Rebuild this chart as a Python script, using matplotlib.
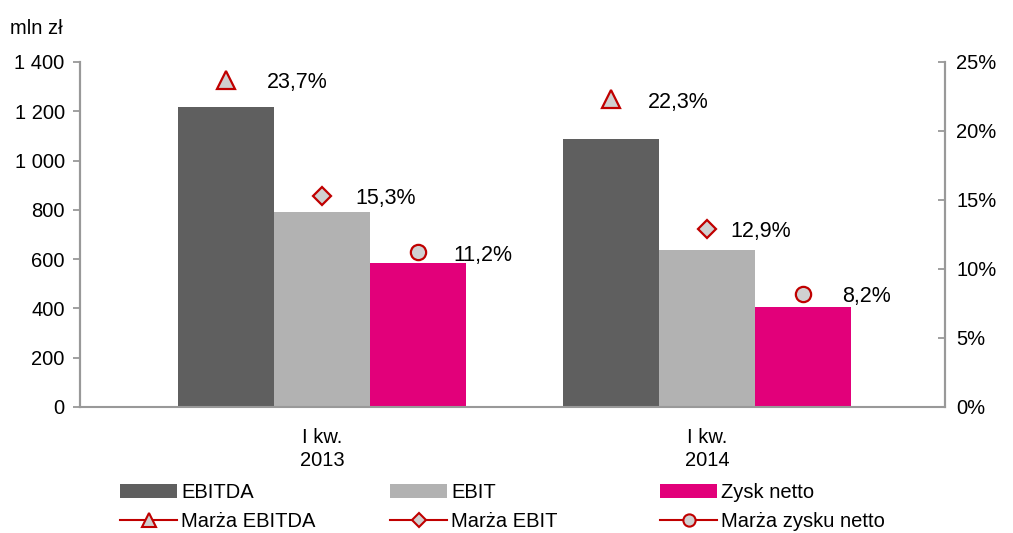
import matplotlib
matplotlib.use("Agg")
import matplotlib.pyplot as plt
from matplotlib.lines import Line2D
from matplotlib.patches import Patch
import numpy as np

plt.rcParams['font.family'] = ['Liberation Sans', 'DejaVu Sans']

categories = ["I kw.\n2013", "I kw.\n2014"]
ebitda = [1217, 1088]
ebit = [791, 637]
zysk = [584, 406]
m_ebitda = [23.7, 22.3]
m_ebit = [15.3, 12.9]
m_zysk = [11.2, 8.2]
left_ticks = [0, 200, 400, 600, 800, 1000, 1200, 1400]
right_ticks = [0, 5, 10, 15, 20, 25]

bar_names = ["EBITDA", "EBIT", "Zysk netto"]
margin_names = ["Marża EBITDA", "Marża EBIT", "Marża zysku netto"]
bar_colors = ["#5F5F5F", "#B2B2B2", "#E2007A"]
red = "#C00000"
mface = "#D0D0D0"
spine_c = "#999999"
fs = 14.5
fs_lab = 15.5

fig = plt.figure(figsize=(10.13, 5.33), dpi=100)
ax = fig.add_axes([0.079, 0.2364, 0.854, 0.6473])
ax2 = ax.twinx()

x = np.arange(len(categories))
w = 0.249
offs = [-w, 0, w]
for vals, off, c in zip([ebitda, ebit, zysk], offs, bar_colors):
    ax.bar(x + off, vals, width=w, color=c, zorder=2)

ax.set_xlim(-0.6286, 1.618)
ax.set_ylim(0, 1400)
ax.set_yticks(left_ticks)
ax.set_yticklabels([f"{v:,}".replace(",", " ") for v in left_ticks], fontsize=fs)
ax.set_xticks(x)
ax.set_xticklabels(categories, fontsize=fs, linespacing=1.3)
ax.tick_params(axis='x', length=0, pad=15)
ax.tick_params(axis='y', direction='out', length=5, color=spine_c, width=1.3, pad=6)

ax2.set_ylim(0, 25)
ax2.set_yticks(right_ticks)
ax2.set_yticklabels([f"{v}%" for v in right_ticks], fontsize=fs)
ax2.tick_params(axis='y', direction='in', length=5, color=spine_c, width=1.3, pad=8)

for a in (ax, ax2):
    a.spines['top'].set_visible(False)
    for s in ('left', 'right', 'bottom'):
        a.spines[s].set_color(spine_c)
        a.spines[s].set_linewidth(1.5)
ax2.spines['bottom'].set_visible(False)

markers = ['^', 'D', 'o']
msizes = [13, 9, 11]
label_dx = [[41, 37], [33, 23], [35, 39]]  # px offsets of value labels
for vals, off, mk, ms, dxs in zip([m_ebitda, m_ebit, m_zysk], offs, markers, msizes, label_dx):
    ax2.plot(x + off, vals, linestyle='none', marker=mk, markersize=ms,
             markerfacecolor=mface, markeredgecolor=red, markeredgewidth=1.6, zorder=5)
    for xi, v, dx in zip(x + off, vals, dxs):
        ax2.annotate(f"{v:.1f}%".replace(".", ","), (xi, v), xytext=(dx * 0.72, -2),
                     textcoords='offset points', ha='left', va='center', fontsize=fs_lab)

fig.text(10 / 1013, 1 - 28 / 533, "mln zł", fontsize=fs, ha='left', va='center')

col_x = [120, 390, 660]
for i in range(3):
    handles = [Patch(facecolor=bar_colors[i], edgecolor='none'),
               Line2D([0], [0], color=red, lw=1.5, marker=markers[i], markersize=msizes[i] * 0.8,
                      markerfacecolor=mface, markeredgecolor=red, markeredgewidth=1.5)]
    fig.legend(handles, [bar_names[i], margin_names[i]], loc='upper left',
               bbox_to_anchor=(col_x[i] / 1013, 1 - 483 / 533), frameon=False,
               fontsize=fs, handlelength=2.85, handletextpad=0.2, labelspacing=0.5,
               borderpad=0, borderaxespad=0)

fig.savefig("out.png", dpi=100)
